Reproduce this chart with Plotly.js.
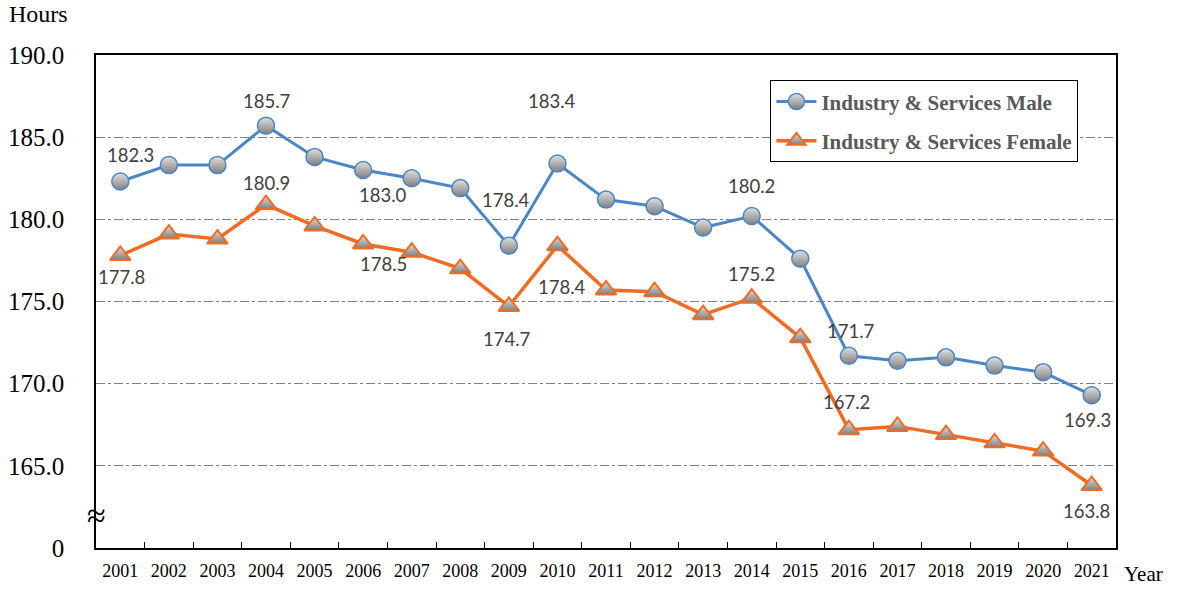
<!DOCTYPE html>
<html>
<head>
<meta charset="utf-8">
<script src="https://cdn.plot.ly/plotly-3.0.1.min.js"></script>
<style>body{margin:0;background:#fff}#chart{width:1182px;height:589px}</style>
</head>
<body>
<div id="chart"></div>
<script>
const years = ['2001','2002','2003','2004','2005','2006','2007','2008','2009','2010','2011','2012','2013','2014','2015','2016','2017','2018','2019','2020','2021'];
const male = [182.3,183.3,183.3,185.7,183.8,183.0,182.5,181.9,178.4,183.4,181.2,180.8,179.5,180.2,177.6,171.7,171.4,171.6,171.1,170.7,169.3];
const female = [177.8,179.1,178.8,180.9,179.6,178.5,178.0,177.0,174.7,178.4,175.7,175.6,174.2,175.2,172.8,167.2,167.4,166.9,166.4,165.9,163.8];
const maleName = 'Industry & Services Male';
const femaleName = 'Industry & Services Female';
const yTickVals = [160,165,170,175,180,185,190];
const yTickText = ['0','165.0','170.0','175.0','180.0','185.0','190.0'];

// labelled points: index and pixel offsets
const maleLabels = [[0,10,-27],[3,0,-25],[5,20,25],[8,-3,-46],[9,-5,-62],[13,0,-30],[15,2,-25],[20,-4,25]];
const femaleLabels = [[0,1,22],[3,0,-22],[5,20,20],[8,-2,33],[9,5,41],[13,0,-24],[15,-2,-28],[20,-5,25]];

const traces = [
  {x: years, y: male, name: maleName, type:'scatter', mode:'lines+markers', legendgroup:'m',
   line:{color:'#4A86C8', width:3},
   marker:{symbol:'circle', size:17, color:'#e0e0e0', gradient:{type:'vertical', color:'#7f7f7f'}, line:{color:'#4A86C8', width:1.5}}},
  {x: years, y: female, name: femaleName, type:'scatter', mode:'lines+markers', legendgroup:'f',
   line:{color:'#F26B21', width:3.5},
   marker:{symbol:'triangle-up', size:18, color:'#e0e0e0', gradient:{type:'vertical', color:'#7f7f7f'}, line:{color:'#F26B21', width:2}}}
];

const ann = [];
const labFont = {family:'Lato, "Open Sans", sans-serif', size:18.5, color:'#404040'};
maleLabels.forEach(([i,dx,dy]) => ann.push({x: i, y: male[i], xref:'x', yref:'y', text: male[i].toFixed(1), showarrow:false, xshift:dx, yshift:-dy, font:labFont}));
femaleLabels.forEach(([i,dx,dy]) => ann.push({x: i, y: female[i], xref:'x', yref:'y', text: female[i].toFixed(1), showarrow:false, xshift:dx, yshift:-dy, font:labFont}));
const serif = '"Liberation Serif", "Times New Roman", serif';
ann.push({xref:'paper', yref:'paper', x:-0.087, y:1.083, xanchor:'left', yanchor:'middle', text:'Hours', showarrow:false, font:{family:serif, size:24, color:'#000'}});
ann.push({xref:'paper', yref:'paper', x:1.006, y:-0.052, xanchor:'left', yanchor:'middle', text:'Year', showarrow:false, font:{family:serif, size:21, color:'#000'}});
ann.push({xref:'paper', yref:'y', x:0, y:162.0, xanchor:'center', yanchor:'middle', text:'≈', showarrow:false, font:{family:serif, size:34, color:'#000'}});

const layout = {
  width:1182, height:589,
  margin:{l:96, r:66, t:55, b:41},
  paper_bgcolor:'#fff', plot_bgcolor:'#fff',
  showlegend:true,
  legend:{x:0.661, y:0.949, xanchor:'left', yanchor:'top', bgcolor:'#fff', bordercolor:'#000', borderwidth:1.2,
          font:{family:serif, size:21, color:'#595959', weight:'bold'}, traceorder:'grouped', tracegroupgap:9, itemwidth:40},
  xaxis:{type:'category', range:[-0.5,20.5], showline:true, linecolor:'#000', linewidth:1.8, mirror:true,
         ticks:'inside', tickson:'boundaries', ticklen:6, tickcolor:'#000', tickwidth:1, showgrid:false,
         tickfont:{family:serif, size:18, color:'#000'}, ticklabelstandoff:6},
  yaxis:{range:[160,190], tickvals:yTickVals, ticktext:yTickText, showline:true, linecolor:'#000', linewidth:1.8, mirror:true,
         ticks:'', showgrid:true, gridcolor:'#808080', griddash:'dashdot', gridwidth:1, zeroline:false,
         tickfont:{family:serif, size:25, color:'#000'}, ticklabelstandoff:25},
  annotations: ann
};
Plotly.newPlot('chart', traces, layout, {displayModeBar:false, staticPlot:true});
</script>
</body>
</html>
